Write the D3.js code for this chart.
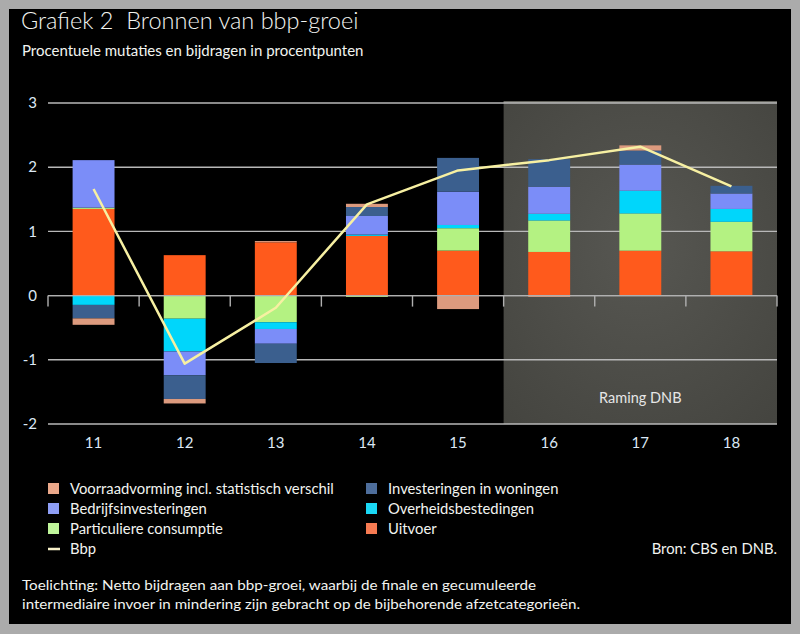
<!DOCTYPE html>
<html>
<head>
<meta charset="utf-8">
<script src="https://cdn.jsdelivr.net/npm/d3@7"></script>
<style>
html,body{margin:0;padding:0;background:#ababab;}
svg{display:block;}
text{font-family:Lato,"Open Sans",sans-serif;white-space:pre;}
</style>
</head>
<body>
<svg id="chart" width="800" height="634"></svg>
<script>
const years = ["11","12","13","14","15","16","17","18"];
const uitvoer     = [1.35, 0.63, 0.83, 0.93, 0.70, 0.68, 0.70, 0.69];
const consumptie  = [0.02, -0.36, -0.415, -0.02, 0.35, 0.49, 0.58, 0.46];
const overheid    = [-0.145, -0.51, -0.105, 0.02, 0.05, 0.105, 0.355, 0.20];
const bedrijfs    = [0.74, -0.37, -0.23, 0.29, 0.52, 0.42, 0.405, 0.24];
const woningen    = [-0.21, -0.37, -0.30, 0.14, 0.525, 0.43, 0.22, 0.12];
const voorraad    = [-0.10, -0.07, 0.02, 0.05, -0.21, -0.02, 0.08, 0.0];
const bbp         = [1.66, -1.06, -0.19, 1.42, 1.95, 2.11, 2.32, 1.70];
const yTicks = [-2, -1, 0, 1, 2, 3];
const forecastYears = ["16","17","18"];

const series = [
  {key:"uitvoer", name:"Uitvoer", values:uitvoer, color:"#ff5a1c", legend:"#f77b52"},
  {key:"consumptie", name:"Particuliere consumptie", values:consumptie, color:"#b4f282", legend:"#bff59a"},
  {key:"overheid", name:"Overheidsbestedingen", values:overheid, color:"#00d6fb", legend:"#1ad8f5"},
  {key:"bedrijfs", name:"Bedrijfsinvesteringen", values:bedrijfs, color:"#7b8df8", legend:"#8e9ef5"},
  {key:"woningen", name:"Investeringen in woningen", values:woningen, color:"#3b5f8e", legend:"#4e6e9c"},
  {key:"voorraad", name:"Voorraadvorming incl. statistisch verschil", values:voorraad, color:"#dc9a7e", legend:"#eba88a"}
];

const svg = d3.select("#chart");
svg.append("rect").attr("x",0).attr("y",0).attr("width",800).attr("height",634).attr("fill","#ababab");
svg.append("rect").attr("x",9).attr("y",9).attr("width",782).attr("height",615).attr("fill","#000");

const pLeft = 48, pRight = 777, pTop = 103, pBottom = 424;
const x = d3.scaleBand().domain(years).range([pLeft,pRight]).paddingInner(0.54).paddingOuter(0.27);
const y = d3.scaleLinear().domain([-2,3]).range([pBottom, pTop]);
const step = x.step();

const defs = svg.append("defs");
const rg = defs.append("radialGradient").attr("id","shade").attr("cx","50%").attr("cy","45%").attr("r","75%");
rg.append("stop").attr("offset","0%").attr("stop-color","#575752");
rg.append("stop").attr("offset","100%").attr("stop-color","#44443f");
const fx0 = x(forecastYears[0]) - step*x.paddingInner()/2;
svg.append("rect").attr("x",fx0).attr("y",pTop-1.5).attr("width",pRight-fx0).attr("height",pBottom-pTop+1.5)
  .attr("fill","url(#shade)");
svg.append("line").attr("x1",fx0).attr("x2",pRight).attr("y1",pTop-1).attr("y2",pTop-1)
  .attr("stroke","#77776f").attr("stroke-width",1.5);

svg.append("g").selectAll("line").data(yTicks).join("line")
  .attr("x1",pLeft).attr("x2",pRight).attr("y1",d=>y(d)).attr("y2",d=>y(d))
  .attr("stroke","#b8b8b8").attr("stroke-width",1.4);

svg.append("g").selectAll("text").data(yTicks).join("text")
  .attr("x",37).attr("y",d=>y(d)).attr("dy","0.35em").attr("text-anchor","end")
  .attr("fill","#dce8f5").attr("font-size",15).text(d=>d);

const table = years.map((yr,i)=>{const o={year:yr}; series.forEach(s=>o[s.key]=s.values[i]); return o;});
const stack = d3.stack().keys(series.map(s=>s.key)).offset(d3.stackOffsetDiverging);
const stacked = stack(table);
const colorOf = Object.fromEntries(series.map(s=>[s.key,s.color]));
svg.append("g").selectAll("g").data(stacked).join("g").attr("fill",d=>colorOf[d.key])
  .selectAll("rect").data(d=>d).join("rect")
  .attr("x",d=>x(d.data.year)).attr("width",x.bandwidth())
  .attr("y",d=>y(Math.max(d[0],d[1]))).attr("height",d=>Math.abs(y(d[0])-y(d[1])));

svg.append("line").attr("x1",pLeft).attr("x2",pRight).attr("y1",y(0)).attr("y2",y(0))
  .attr("stroke","#b0b0b0").attr("stroke-width",1.4);
const tickPos = years.map(yr=>x(yr) - step*x.paddingInner()/2).concat([pRight]);
svg.append("g").selectAll("line").data(tickPos).join("line")
  .attr("x1",d=>d).attr("x2",d=>d).attr("y1",y(0)).attr("y2",y(0)+11)
  .attr("stroke","#b0b0b0").attr("stroke-width",1.4);

svg.append("g").selectAll("text").data(years).join("text")
  .attr("x",d=>x(d)+x.bandwidth()/2).attr("y",448).attr("text-anchor","middle")
  .attr("fill","#dce8f5").attr("font-size",15).text(d=>d);

const line = d3.line().x((d,i)=>x(years[i])+x.bandwidth()/2).y(d=>y(d));
svg.append("path").datum(bbp).attr("d",line).attr("fill","none")
  .attr("stroke","#f7f0a2").attr("stroke-width",2.5).attr("stroke-linejoin","round");

svg.append("text").attr("x",(fx0+pRight)/2).attr("y",403).attr("text-anchor","middle")
  .attr("fill","#e6e6e6").attr("font-size",14.5).text("Raming DNB");

svg.append("text").attr("x",21).attr("y",29).attr("fill","#f2f4f0").attr("font-size",23.5).attr("font-weight",300)
  .text("Grafiek 2  Bronnen van bbp-groei");
svg.append("text").attr("x",22).attr("y",56).attr("fill","#f2f4f0").attr("font-size",15).text("Procentuele mutaties en bijdragen in procentpunten");

const byKey = Object.fromEntries(series.map(s=>[s.key,s]));
const legendItems = [
  {s:byKey.voorraad, col:0,row:0},{s:byKey.bedrijfs,col:0,row:1},{s:byKey.consumptie,col:0,row:2},
  {s:byKey.woningen, col:1,row:0},{s:byKey.overheid,col:1,row:1},{s:byKey.uitvoer,col:1,row:2}
];
const colX = [48, 366], rowY = [489, 509, 529, 549];
const lg = svg.append("g");
legendItems.forEach(it=>{
  lg.append("rect").attr("x",colX[it.col]).attr("y",rowY[it.row]-6).attr("width",11).attr("height",11).attr("fill",it.s.legend);
  lg.append("text").attr("x",colX[it.col]+22).attr("y",rowY[it.row]).attr("dy","0.35em")
    .attr("fill","#f2f4f0").attr("font-size",14.8).text(it.s.name);
});
lg.append("line").attr("x1",48).attr("x2",60).attr("y1",rowY[3]).attr("y2",rowY[3]).attr("stroke","#f7f0c8").attr("stroke-width",2.5);
lg.append("text").attr("x",70).attr("y",rowY[3]).attr("dy","0.35em").attr("fill","#f2f4f0").attr("font-size",14.8).text("Bbp");
svg.append("text").attr("x",777).attr("y",rowY[3]).attr("dy","0.35em").attr("text-anchor","end")
  .attr("fill","#f2f4f0").attr("font-size",14.8).text("Bron: CBS en DNB.");

svg.append("text").attr("x",22).attr("y",590).attr("fill","#f2f4f0").attr("font-size",14)
  .attr("textLength",514).attr("lengthAdjust","spacingAndGlyphs")
  .text("Toelichting: Netto bijdragen aan bbp-groei, waarbij de finale en gecumuleerde");
svg.append("text").attr("x",22).attr("y",609).attr("fill","#f2f4f0").attr("font-size",14)
  .attr("textLength",558).attr("lengthAdjust","spacingAndGlyphs")
  .text("intermediaire invoer in mindering zijn gebracht op de bijbehorende afzetcategorieën.");
</script>
</body>
</html>
